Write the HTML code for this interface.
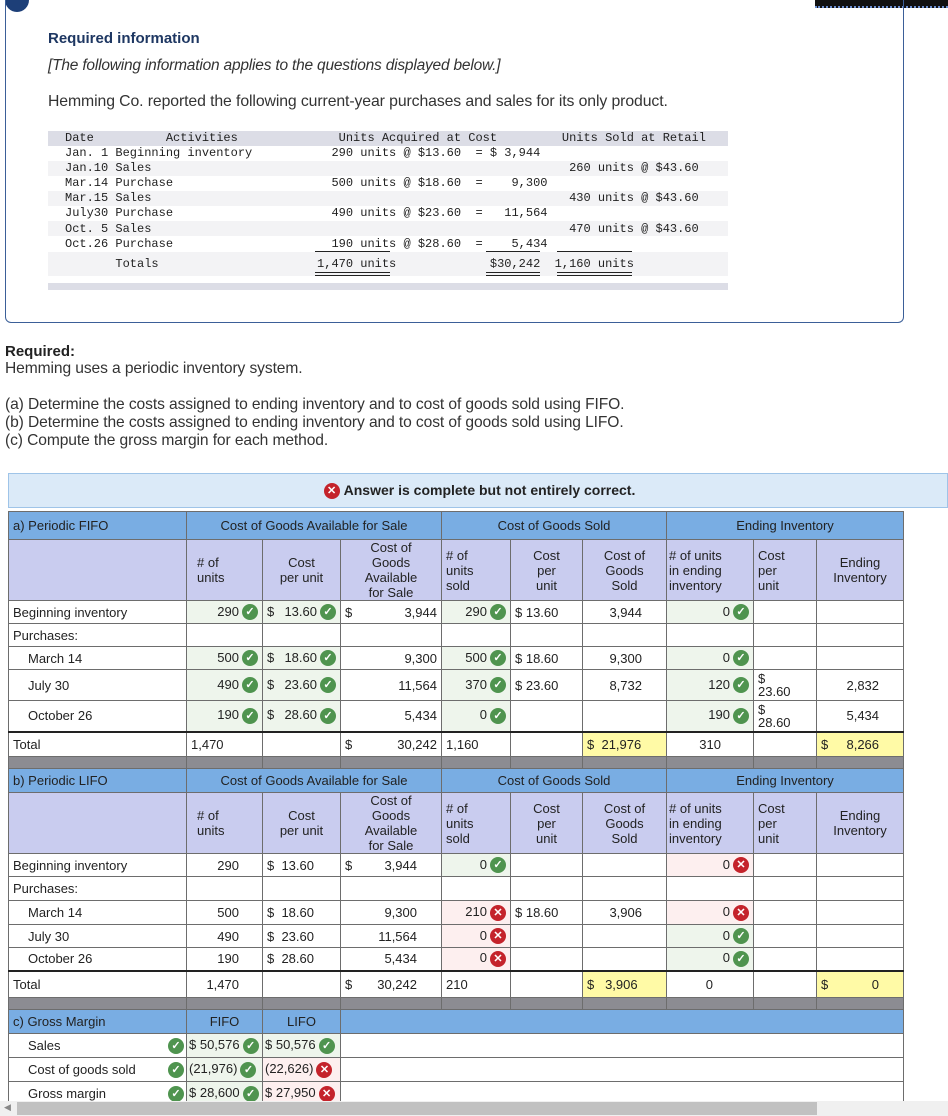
<!DOCTYPE html>
<html><head><meta charset="utf-8">
<style>
*{box-sizing:border-box;margin:0;padding:0}
body{width:948px;height:1116px;overflow:hidden;background:#fff;font-family:"Liberation Sans",Arial,sans-serif;color:#222;position:relative}
.abs{position:absolute;white-space:nowrap}
pre.mono{white-space:pre;font-family:"Liberation Mono",monospace;font-size:12px;color:#222}
table.t{position:absolute;left:8px;border-collapse:collapse;table-layout:fixed;font-size:13px}
table.t td{border:1px solid #6d6d6d;padding:0 4px;vertical-align:middle;white-space:nowrap}
tr.h td{background:#79ade3;text-align:center;font-size:13px}
tr.h td.l{text-align:left}
tr.s td{background:#c9ccef;text-align:center;line-height:15px}
tr.g td{background:#8c8c92;height:12px}
table.t td.r{text-align:right}
td.ok{background:#eef5ec}
td.bad{background:#fdefef}
td.y{background:#fffaa6}
table.t td.ind{padding-left:19px}
.ic{display:inline-block;width:16px;height:16px;border-radius:50%;color:#fff;font-size:11px;line-height:16px;text-align:center;vertical-align:middle;font-weight:bold;margin-left:3px}
.c{background:#4f944f}.x{background:#c4232b}
.dl{float:left}
tr.tot td{border-top:2px solid #222}
</style></head><body>
<div class="abs" style="left:5px;top:-12px;width:24px;height:24px;border-radius:50%;background:#1d3f78"></div>
<div class="abs" style="left:815px;top:0;width:133px;height:8px;background:#111;border-bottom:2px dotted #6c8fd0"></div>
<div class="abs" style="left:5px;top:0;width:899px;height:323px;border:1px solid #3b5f98;border-top:none;border-radius:0 0 6px 6px"></div>
<div class="abs" style="left:48px;top:30px;font-size:15px;font-weight:bold;color:#1e3762">Required information</div>
<div class="abs" style="left:48px;top:57px;font-size:15.5px;font-style:italic;color:#333;letter-spacing:-0.2px">[The following information applies to the questions displayed below.]</div>
<div class="abs" style="left:48px;top:93px;font-size:15.8px;color:#333;letter-spacing:-0.1px">Hemming Co. reported the following current-year purchases and sales for its only product.</div>
<div class="abs" style="left:48px;top:131px;width:680px;height:15px;background:#dcdde6"></div>
<div class="abs" style="left:48px;top:161px;width:680px;height:15px;background:#f3f3f5"></div>
<div class="abs" style="left:48px;top:191px;width:680px;height:15px;background:#f3f3f5"></div>
<div class="abs" style="left:48px;top:221px;width:680px;height:15px;background:#f3f3f5"></div>
<div class="abs" style="left:48px;top:252px;width:680px;height:24px;background:#f3f3f5"></div>
<div class="abs" style="left:48px;top:283px;width:680px;height:7px;background:#dcdde6"></div>
<pre class="abs mono" id="pdata" style="left:65px;top:131px;line-height:15.1px"></pre>
<div class="abs" style="left:315px;top:251px;width:75px;border-top:1px solid #222"></div>
<div class="abs" style="left:486px;top:251px;width:54px;border-top:1px solid #222"></div>
<div class="abs" style="left:557px;top:251px;width:75px;border-top:1px solid #222"></div>
<pre class="abs mono" id="ptot" style="left:65px;top:257px"></pre>
<div class="abs" style="left:315px;top:272px;width:75px;height:4px;border-top:1px solid #222;border-bottom:1px solid #222"></div>
<div class="abs" style="left:486px;top:272px;width:54px;height:4px;border-top:1px solid #222;border-bottom:1px solid #222"></div>
<div class="abs" style="left:557px;top:272px;width:75px;height:4px;border-top:1px solid #222;border-bottom:1px solid #222"></div>
<script>
var s=function(n){return ' '.repeat(n);};
document.getElementById('pdata').textContent=[
'Date'+s(10)+'Activities'+s(14)+'Units Acquired at Cost'+s(9)+'Units Sold at Retail',
'Jan. 1 Beginning inventory'+s(11)+'290 units @ $13.60  = $ 3,944',
'Jan.10 Sales'+s(58)+'260 units @ $43.60',
'Mar.14 Purchase'+s(22)+'500 units @ $18.60  =    9,300',
'Mar.15 Sales'+s(58)+'430 units @ $43.60',
'July30 Purchase'+s(22)+'490 units @ $23.60  =   11,564',
'Oct. 5 Sales'+s(58)+'470 units @ $43.60',
'Oct.26 Purchase'+s(22)+'190 units @ $28.60  =    5,434'].join('\n');
document.getElementById('ptot').textContent=s(7)+'Totals'+s(22)+'1,470 units'+s(13)+'$30,242'+s(2)+'1,160 units';
</script>

<div class="abs" style="left:5px;top:343px;font-size:15px;font-weight:bold;color:#222">Required:</div>
<div class="abs" style="left:5px;top:360px;font-size:15.6px;color:#333;line-height:18px;letter-spacing:-0.1px">Hemming uses a periodic inventory system.<br><br>(a) Determine the costs assigned to ending inventory and to cost of goods sold using FIFO.<br>(b) Determine the costs assigned to ending inventory and to cost of goods sold using LIFO.<br>(c) Compute the gross margin for each method.</div>

<div class="abs" style="left:8px;top:473px;width:940px;height:35px;background:#dbeaf8;border:1px solid #9fc4e8;text-align:center;font-size:14px;font-weight:bold;line-height:33px;color:#222"><span class="ic x" style="margin-right:4px">✕</span>Answer is complete but not entirely correct.</div>

<table class="t" style="top:511px;width:895px">
<colgroup><col style="width:178px"><col style="width:76px"><col style="width:78px"><col style="width:101px"><col style="width:69px"><col style="width:72px"><col style="width:84px"><col style="width:87px"><col style="width:63px"><col style="width:87px"></colgroup>
<tr class="h" style="height:28px"><td class="l">a) Periodic FIFO</td><td colspan="3">Cost of Goods Available for Sale</td><td colspan="3">Cost of Goods Sold</td><td colspan="3">Ending Inventory</td></tr>
<tr class="s" style="height:61px"><td></td><td style="text-align:left;padding-left:10px"># of<br>units</td><td>Cost<br>per unit</td><td>Cost of<br>Goods<br>Available<br>for Sale</td><td style="text-align:left"># of<br>units<br>sold</td><td>Cost<br>per<br>unit</td><td>Cost of<br>Goods<br>Sold</td><td style="text-align:left;padding-left:2px"># of units<br>in ending<br>inventory</td><td style="text-align:left;padding-left:4px">Cost<br>per<br>unit</td><td>Ending<br>Inventory</td></tr>
<tr style="height:23px"><td>Beginning inventory</td><td class="r ok">290<span class="ic c">✓</span></td><td class="ok r"><span class="dl">$</span>13.60<span class="ic c">✓</span></td><td class="r"><span class="dl">$</span>3,944</td><td class="r ok">290<span class="ic c">✓</span></td><td><span>$ 13.60</span></td><td class="r" style="padding-right:24px">3,944</td><td class="r ok">0<span class="ic c">✓</span></td><td></td><td></td></tr>
<tr style="height:23px"><td>Purchases:</td><td></td><td></td><td></td><td></td><td></td><td></td><td></td><td></td><td></td></tr>
<tr style="height:23px"><td class="ind">March 14</td><td class="r ok">500<span class="ic c">✓</span></td><td class="ok r"><span class="dl">$</span>18.60<span class="ic c">✓</span></td><td class="r">9,300</td><td class="r ok">500<span class="ic c">✓</span></td><td>$ 18.60</td><td class="r" style="padding-right:24px">9,300</td><td class="r ok">0<span class="ic c">✓</span></td><td></td><td></td></tr>
<tr style="height:31px"><td class="ind">July 30</td><td class="r ok">490<span class="ic c">✓</span></td><td class="ok r"><span class="dl">$</span>23.60<span class="ic c">✓</span></td><td class="r">11,564</td><td class="r ok">370<span class="ic c">✓</span></td><td>$ 23.60</td><td class="r" style="padding-right:24px">8,732</td><td class="r ok">120<span class="ic c">✓</span></td><td style="line-height:13px">$<br>23.60</td><td class="r" style="padding-right:24px">2,832</td></tr>
<tr style="height:31px"><td class="ind">October 26</td><td class="r ok">190<span class="ic c">✓</span></td><td class="ok r"><span class="dl">$</span>28.60<span class="ic c">✓</span></td><td class="r">5,434</td><td class="r ok">0<span class="ic c">✓</span></td><td></td><td></td><td class="r ok">190<span class="ic c">✓</span></td><td style="line-height:13px">$<br>28.60</td><td class="r" style="padding-right:24px">5,434</td></tr>
<tr class="tot" style="height:25px"><td>Total</td><td>1,470</td><td></td><td class="r"><span class="dl">$</span>30,242</td><td>1,160</td><td></td><td class="y"><span class="dl">$</span>&nbsp;&nbsp;21,976</td><td class="r" style="padding-right:32px">310</td><td></td><td class="y r" style="padding-right:24px"><span class="dl">$</span>8,266</td></tr>
<tr class="g"><td></td><td></td><td></td><td></td><td></td><td></td><td></td><td></td><td></td><td></td></tr>
<tr class="h" style="height:24px"><td class="l">b) Periodic LIFO</td><td colspan="3">Cost of Goods Available for Sale</td><td colspan="3">Cost of Goods Sold</td><td colspan="3">Ending Inventory</td></tr>
<tr class="s" style="height:61px"><td></td><td style="text-align:left;padding-left:10px"># of<br>units</td><td>Cost<br>per unit</td><td>Cost of<br>Goods<br>Available<br>for Sale</td><td style="text-align:left"># of<br>units<br>sold</td><td>Cost<br>per<br>unit</td><td>Cost of<br>Goods<br>Sold</td><td style="text-align:left;padding-left:2px"># of units<br>in ending<br>inventory</td><td style="text-align:left;padding-left:4px">Cost<br>per<br>unit</td><td>Ending<br>Inventory</td></tr>
<tr style="height:23px"><td>Beginning inventory</td><td class="r" style="padding-right:23px">290</td><td><span>$&nbsp; 13.60</span></td><td class="r" style="padding-right:24px"><span class="dl">$</span>3,944</td><td class="r ok">0<span class="ic c">✓</span></td><td></td><td></td><td class="r bad">0<span class="ic x">✕</span></td><td></td><td></td></tr>
<tr style="height:24px"><td>Purchases:</td><td></td><td></td><td></td><td></td><td></td><td></td><td></td><td></td><td></td></tr>
<tr style="height:24px"><td class="ind">March 14</td><td class="r" style="padding-right:23px">500</td><td>$&nbsp; 18.60</td><td class="r" style="padding-right:24px">9,300</td><td class="r bad">210<span class="ic x">✕</span></td><td>$ 18.60</td><td class="r" style="padding-right:24px">3,906</td><td class="r bad">0<span class="ic x">✕</span></td><td></td><td></td></tr>
<tr style="height:23px"><td class="ind">July 30</td><td class="r" style="padding-right:23px">490</td><td>$&nbsp; 23.60</td><td class="r" style="padding-right:24px">11,564</td><td class="r bad">0<span class="ic x">✕</span></td><td></td><td></td><td class="r ok">0<span class="ic c">✓</span></td><td></td><td></td></tr>
<tr style="height:23px"><td class="ind">October 26</td><td class="r" style="padding-right:23px">190</td><td>$&nbsp; 28.60</td><td class="r" style="padding-right:24px">5,434</td><td class="r bad">0<span class="ic x">✕</span></td><td></td><td></td><td class="r ok">0<span class="ic c">✓</span></td><td></td><td></td></tr>
<tr class="tot" style="height:27px"><td>Total</td><td class="r" style="padding-right:23px">1,470</td><td></td><td class="r" style="padding-right:24px"><span class="dl">$</span>30,242</td><td>210</td><td></td><td class="y"><span class="dl">$</span>&nbsp;&nbsp;&nbsp;3,906</td><td class="r" style="padding-right:40px">0</td><td></td><td class="y r" style="padding-right:24px"><span class="dl">$</span>0</td></tr>
<tr class="g"><td></td><td></td><td></td><td></td><td></td><td></td><td></td><td></td><td></td><td></td></tr>
<tr class="h" style="height:24px"><td class="l">c) Gross Margin</td><td>FIFO</td><td>LIFO</td><td colspan="7"></td></tr>
<tr style="height:24px"><td class="ind" style="position:relative">Sales<span class="ic c" style="position:absolute;right:2px;top:4px">✓</span></td><td class="ok" style="padding:0 2px">$ 50,576<span class="ic c">✓</span></td><td class="ok" style="padding:0 2px">$ 50,576<span class="ic c">✓</span></td><td colspan="7"></td></tr>
<tr style="height:24px"><td class="ind" style="position:relative">Cost of goods sold<span class="ic c" style="position:absolute;right:2px;top:4px">✓</span></td><td class="ok" style="padding:0 2px">(21,976)<span class="ic c">✓</span></td><td class="bad" style="padding:0 2px">(22,626)<span class="ic x">✕</span></td><td colspan="7"></td></tr>
<tr style="height:24px"><td class="ind" style="position:relative">Gross margin<span class="ic c" style="position:absolute;right:2px;top:4px">✓</span></td><td class="ok" style="padding:0 2px">$ 28,600<span class="ic c">✓</span></td><td class="bad" style="padding:0 2px">$ 27,950<span class="ic x">✕</span></td><td colspan="7"></td></tr>
</table>
<div class="abs" style="left:0;top:1101px;width:948px;height:15px;background:#f0f0f0"></div>
<div class="abs" style="left:17px;top:1102px;width:800px;height:13px;background:#c1c1c1"></div>
<div class="abs" style="left:4px;top:1102px;font-size:9px;color:#888">◀</div>
</body></html>
